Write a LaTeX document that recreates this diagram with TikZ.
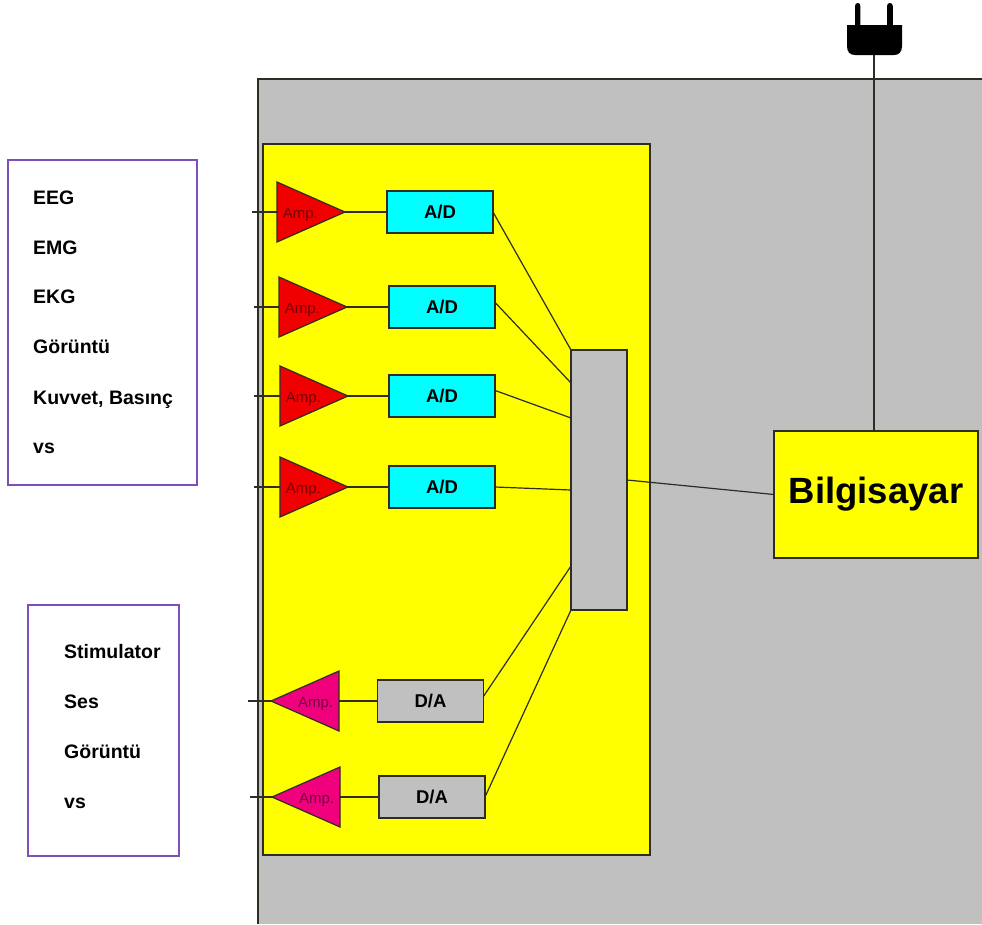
\documentclass[tikz,border=0pt]{standalone}
\usepackage{fontspec}
\setmainfont{Liberation Sans}
\usetikzlibrary{shapes.geometric}
\definecolor{panel}{RGB}{192,192,192}
\definecolor{board}{RGB}{255,255,0}
\definecolor{adcol}{RGB}{0,255,255}
\definecolor{inamp}{RGB}{240,0,0}
\definecolor{outamp}{RGB}{240,0,125}
\definecolor{frame}{RGB}{125,80,185}
\definecolor{edge}{RGB}{45,45,35}
\newcommand{\amplab}{\raisebox{-0.5pt}[11pt][0pt]{Amp.}}
\tikzset{
  block/.style={draw=edge, line width=1.2pt, inner sep=0pt, outer sep=0pt},
  conv/.style={block, fill=#1, minimum width=106pt, minimum height=42pt, font=\fontsize{18.5}{20}\selectfont\bfseries},
  amp/.style={block, fill=#1, isosceles triangle, isosceles triangle stretches, minimum width=60pt, minimum height=68pt, font=\fontsize{15}{16}\selectfont, text=#1!50!black},
  srcbox/.style={draw=frame, line width=1.4pt, fill=white, inner sep=0pt, outer sep=0pt},
  item/.style={anchor=base west, inner sep=0pt, font=\fontsize{19.5}{20}\selectfont\bfseries, text=black},
  wire/.style={draw=edge, line width=1.2pt},
}
\begin{document}
\begin{tikzpicture}[x=1pt, y=-1pt]
  \useasboundingbox (0,0) rectangle (982,924);
  % cabinet and board
  \fill[panel] (258,79) rectangle (982,924);
  \draw[wire] (258,924) -- (258,79) -- (982,79);
  \node[block, fill=board, minimum width=387pt, minimum height=711pt] (board) at (456.5,499.5) {};
  % signal lists
  \node[srcbox, minimum width=189pt, minimum height=325pt] (inlist) at (102.5,322.5) {};
  \node[srcbox, minimum width=151pt, minimum height=251pt] (outlist) at (103.5,730.5) {};
  \node[item] (i1) at (33,204) {EEG}; \node[item] (i2) at (33,254) {EMG}; \node[item] (i3) at (33,303) {EKG};
  \node[item] (i4) at (33,353) {Görüntü}; \node[item] (i5) at (33,404) {Kuvvet, Basınç}; \node[item] (i6) at (33,453) {vs};
  \node[item] (o1) at (64,658) {Stimulator}; \node[item] (o2) at (64,708) {Ses};
  \node[item] (o3) at (64,758) {Görüntü}; \node[item] (o4) at (64,808) {vs};
  % amplifiers and converters
  \node[amp=inamp, anchor=apex] (amp1) at (345,212) {\amplab};
  \node[amp=inamp, anchor=apex] (amp2) at (347,307) {\amplab};
  \node[amp=inamp, anchor=apex] (amp3) at (348,396) {\amplab};
  \node[amp=inamp, anchor=apex] (amp4) at (348,487) {\amplab};
  \node[amp=outamp, shape border rotate=180, anchor=apex] (amp5) at (271,701) {\amplab};
  \node[amp=outamp, shape border rotate=180, anchor=apex] (amp6) at (272,797) {\amplab};
  \node[conv=adcol] (ad1) at (440,212) {A/D}; \node[conv=adcol] (ad2) at (442,307) {A/D};
  \node[conv=adcol] (ad3) at (442,396) {A/D}; \node[conv=adcol] (ad4) at (442,487) {A/D};
  \node[conv=panel] (da1) at (430.5,701) {D/A}; \node[conv=panel] (da2) at (432,797) {D/A};
  \node[block, fill=panel, minimum width=56pt, minimum height=260pt] (mux) at (599,480) {};
  \node[block, fill=board, minimum width=204pt, minimum height=127pt, font=\fontsize{36.5}{38}\selectfont\bfseries] (pc) at (876,494.5) {Bilgisayar};
  % free ends
  \coordinate (in1) at (252,212); \coordinate (in2) at (254,307); \coordinate (in3) at (254,396); \coordinate (in4) at (254,487);
  \coordinate (out1) at (248,701); \coordinate (out2) at (250,797);
  \coordinate (m2) at (571,383); \coordinate (m3) at (571,418); \coordinate (m4) at (571,490); \coordinate (m5) at (571,566);
  \coordinate (plug) at (874,55);
  \draw[wire] (in1) -- (amp1.lower side); \draw[wire] (in2) -- (amp2.lower side); \draw[wire] (in3) -- (amp3.lower side); \draw[wire] (in4) -- (amp4.lower side);
  \draw[wire] (out1) -- (amp5.apex); \draw[wire] (out2) -- (amp6.apex);
  \draw[wire] (amp1.apex) -- (ad1); \draw[wire] (amp2.apex) -- (ad2); \draw[wire] (amp3.apex) -- (ad3); \draw[wire] (amp4.apex) -- (ad4);
  \draw[wire] (amp5.lower side) -- (da1); \draw[wire] (amp6.lower side) -- (da2);
  \draw[wire] (ad1.east) -- (mux.north west); \draw[wire] (ad2.5.4) -- (m2); \draw[wire] (ad3.6.5) -- (m3); \draw[wire] (ad4.east) -- (m4);
  \draw[wire] (da1.5.3) -- (m5); \draw[wire] (da2.east) -- (mux.south west);
  \draw[wire] (mux.east) -- (pc.west); \draw[wire] (plug) -- (pc.north -| plug);
  % mains plug
  \fill[black] (847,25) -- (855,25) -- (855,6) .. controls (855,2) and (860.4,2) .. (860.4,6) -- (860.4,25) -- (887,25) -- (887,6) .. controls (887,2) and (892.8,2) .. (892.8,6) -- (892.8,25) -- (902,25) -- (902,46) .. controls (902,52) and (899,55) .. (894,55) -- (855,55) .. controls (850,55) and (847,52) .. (847,46) -- cycle;
\end{tikzpicture}
\end{document}
